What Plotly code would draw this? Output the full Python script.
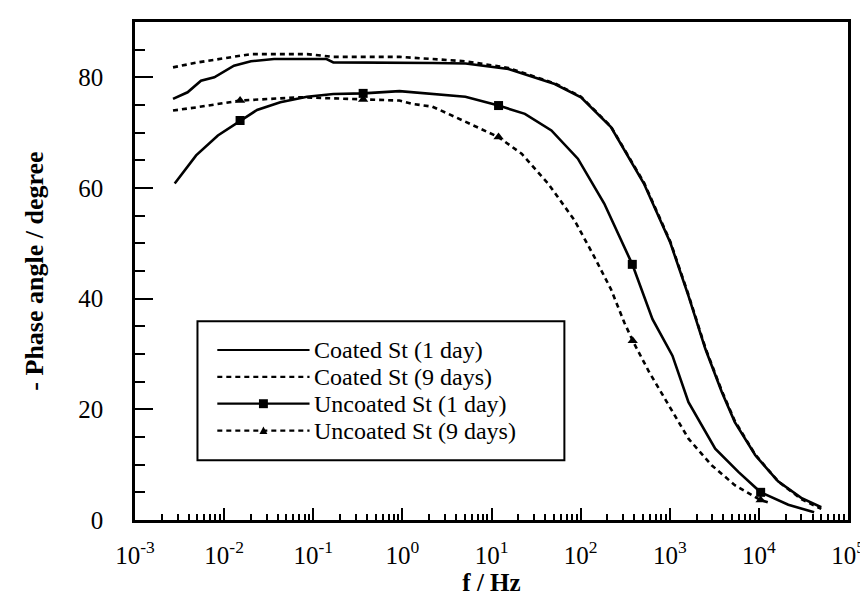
import plotly.graph_objects as go

# ---------------- data ----------------
coated1_f = [0.00267, 0.00389, 0.0055, 0.00776, 0.0129, 0.020, 0.0363, 0.141, 0.168, 0.933,
             2.19, 5.13, 15.5, 51.3, 101, 219, 513, 1016, 1622, 2512, 3846, 5370, 9120,
             16410, 29850, 50120]
coated1_v = [76.1, 77.3, 79.4, 80.0, 82.1, 82.9, 83.3, 83.3, 82.7, 82.7,
             82.6, 82.5, 81.5, 78.8, 76.4, 71.0, 60.8, 50.1, 40.5, 30.9, 23.1, 17.7, 11.7,
             7.0, 4.0, 2.3]

coated9_f = [0.00267, 0.00506, 0.020, 0.0851, 0.168, 0.933, 2.19, 5.13, 15.5, 51.3, 101,
             219, 513, 1016, 1622, 2512, 3846, 5370, 9120, 16410, 29850, 50120]
coated9_v = [81.8, 82.7, 84.2, 84.2, 83.7, 83.7, 83.3, 82.9, 81.7, 78.9, 76.5,
             71.1, 61.0, 50.3, 40.7, 31.1, 23.3, 17.9, 11.8, 7.0, 3.8, 2.0]

uncoated1_f = [0.00279, 0.00485, 0.00851, 0.0151, 0.0234, 0.0427, 0.0851, 0.168, 0.363, 0.927,
               2.17, 5.09, 12.0, 23.7, 47.0, 93.1, 184, 380, 640, 1072, 1622, 3236, 5888,
               10470, 21380, 41690]
uncoated1_v = [60.8, 65.9, 69.5, 72.2, 74.1, 75.5, 76.5, 77.0, 77.1, 77.5,
               77.0, 76.5, 74.9, 73.4, 70.4, 65.3, 57.2, 46.2, 36.3, 29.7, 21.3, 12.9, 8.7,
               5.0, 2.75, 1.4]

uncoated9_f = [0.00267, 0.00501, 0.0151, 0.0715, 0.257, 0.363, 0.927, 1.30, 2.17, 3.95,
               12.0, 21.8, 43.2, 85.1, 141, 219, 309, 384, 589, 977, 1622, 2951, 5370,
               10470, 12590]
uncoated9_v = [74.0, 74.6, 75.8, 76.4, 76.1, 76.0, 75.8, 75.2, 74.7, 72.8,
               69.2, 66.2, 60.8, 54.2, 47.7, 41.7, 35.7, 32.4, 26.7, 20.7, 14.7, 9.9, 6.3,
               3.6, 3.2]

# marker positions
square_f = [0.0151, 0.363, 12.0, 380, 10470]
square_v = [72.2, 77.1, 74.9, 46.2, 5.0]
triangle_f = [0.0151, 0.363, 12.0, 384, 10470]
triangle_v = [75.8, 76.0, 69.2, 32.4, 3.6]

legend_labels = ["Coated St (1 day)", "Coated St (9 days)",
                 "Uncoated St (1 day)", "Uncoated St (9 days)"]

x_tickvals = [1e-3, 1e-2, 1e-1, 1e0, 1e1, 1e2, 1e3, 1e4, 1e5]
x_ticktext = ["10<sup>-3</sup>", "10<sup>-2</sup>", "10<sup>-1</sup>", "10<sup>0</sup>",
              "10<sup>1</sup>", "10<sup>2</sup>", "10<sup>3</sup>", "10<sup>4</sup>",
              "10<sup>5</sup>"]
x_minor = [m * 10.0 ** e for e in range(-3, 5) for m in range(2, 10)]
y_tickvals = [0, 20, 40, 60, 80]

# ---------------- figure ----------------
FONT = '"Liberation Serif", "Times New Roman", Times, "DejaVu Serif", serif'
W, H = 868, 599
L, R, T, B = 127, 22, 11, 87
PW, PH = W - L - R, H - T - B

def px(x):
    return (x - L) / PW

def py(y):
    return (H - B - y) / PH

fig = go.Figure()
DASH = "5px,4px"
LW = 2.6

fig.add_trace(go.Scatter(x=coated1_f, y=coated1_v, mode="lines",
                         line=dict(color="black", width=LW), showlegend=False))
fig.add_trace(go.Scatter(x=coated9_f, y=coated9_v, mode="lines",
                         line=dict(color="black", width=LW, dash=DASH), showlegend=False))
fig.add_trace(go.Scatter(x=uncoated1_f, y=uncoated1_v, mode="lines",
                         line=dict(color="black", width=LW), showlegend=False))
fig.add_trace(go.Scatter(x=uncoated9_f, y=uncoated9_v, mode="lines",
                         line=dict(color="black", width=LW, dash=DASH), showlegend=False))
fig.add_trace(go.Scatter(x=triangle_f, y=triangle_v, mode="markers",
                         marker=dict(symbol="triangle-up", size=9, color="black"),
                         showlegend=False))
fig.add_trace(go.Scatter(x=square_f, y=square_v, mode="markers",
                         marker=dict(symbol="square", size=9, color="black"),
                         showlegend=False))

# ---------------- manual legend (layout decoration) ----------------
box = dict(x0=190, x1=560, y0=312, y1=452)
rows = [341, 368, 395, 422]
line_x0, line_x1 = 210, 303
shapes = [dict(type="rect", xref="paper", yref="paper",
               x0=px(box["x0"]), x1=px(box["x1"]), y0=py(box["y1"]), y1=py(box["y0"]),
               line=dict(color="black", width=2), fillcolor="white", layer="above")]
styles = ["solid", DASH, "solid", DASH]
for r, st in zip(rows, styles):
    shapes.append(dict(type="line", xref="paper", yref="paper",
                       x0=px(line_x0), x1=px(line_x1), y0=py(r), y1=py(r),
                       line=dict(color="black", width=2.2, dash=st), layer="above"))
cx = (line_x0 + line_x1) / 2
shapes.append(dict(type="rect", xref="paper", yref="paper",
                   x0=px(cx - 4.5), x1=px(cx + 4.5), y0=py(rows[2] + 4.5), y1=py(rows[2] - 4.5),
                   line=dict(width=0), fillcolor="black", layer="above"))
tx0, tx1, ty_b, ty_t = px(cx - 4), px(cx + 4), py(rows[3] + 3.5), py(rows[3] - 4)
shapes.append(dict(type="path", xref="paper", yref="paper",
                   path=f"M {tx0} {ty_b} L {tx1} {ty_b} L {px(cx)} {ty_t} Z",
                   line=dict(width=0), fillcolor="black", layer="above"))

annotations = []
for r, lab in zip(rows, legend_labels):
    annotations.append(dict(xref="paper", yref="paper", x=px(307), y=py(r),
                            xanchor="left", yanchor="middle", text=lab, showarrow=False,
                            borderpad=0,
                            font=dict(family=FONT, size=24, color="black")))

fig.update_layout(
    width=W, height=H,
    margin=dict(l=L, r=R, t=T, b=B, pad=0),
    paper_bgcolor="white", plot_bgcolor="white",
    font=dict(family=FONT, color="black"),
    shapes=shapes, annotations=annotations,
    showlegend=False,
)

fig.update_xaxes(
    type="log", range=[-3, 5],
    tickmode="array", tickvals=x_tickvals, ticktext=x_ticktext,
    ticks="inside", ticklen=12, tickwidth=2, tickcolor="black",
    minor=dict(tickmode="array", tickvals=x_minor, ticks="inside", ticklen=6,
               tickwidth=1.6, tickcolor="black", showgrid=False),
    showline=True, linewidth=2.6, linecolor="black", mirror=True,
    showgrid=False, zeroline=False,
    tickfont=dict(family=FONT, size=25, color="black"),
    ticklabelstandoff=11,
    title=dict(text="f / Hz", font=dict(family=FONT, size=25, color="black", weight="bold"),
               standoff=0),
)
fig.update_yaxes(
    range=[0, 90],
    tickmode="array", tickvals=y_tickvals,
    ticks="inside", ticklen=18, tickwidth=2, tickcolor="black",
    minor=dict(dtick=5, tick0=0, ticks="inside", ticklen=10, tickwidth=1.6,
               tickcolor="black", showgrid=False),
    showline=True, linewidth=2.6, linecolor="black", mirror=True,
    showgrid=False, zeroline=False,
    tickfont=dict(family=FONT, size=25, color="black"),
    ticklabelstandoff=24,
    title=dict(text="- Phase angle / degree",
               font=dict(family=FONT, size=26, color="black", weight="bold"),
               standoff=28),
)

fig.write_html("out.html")
